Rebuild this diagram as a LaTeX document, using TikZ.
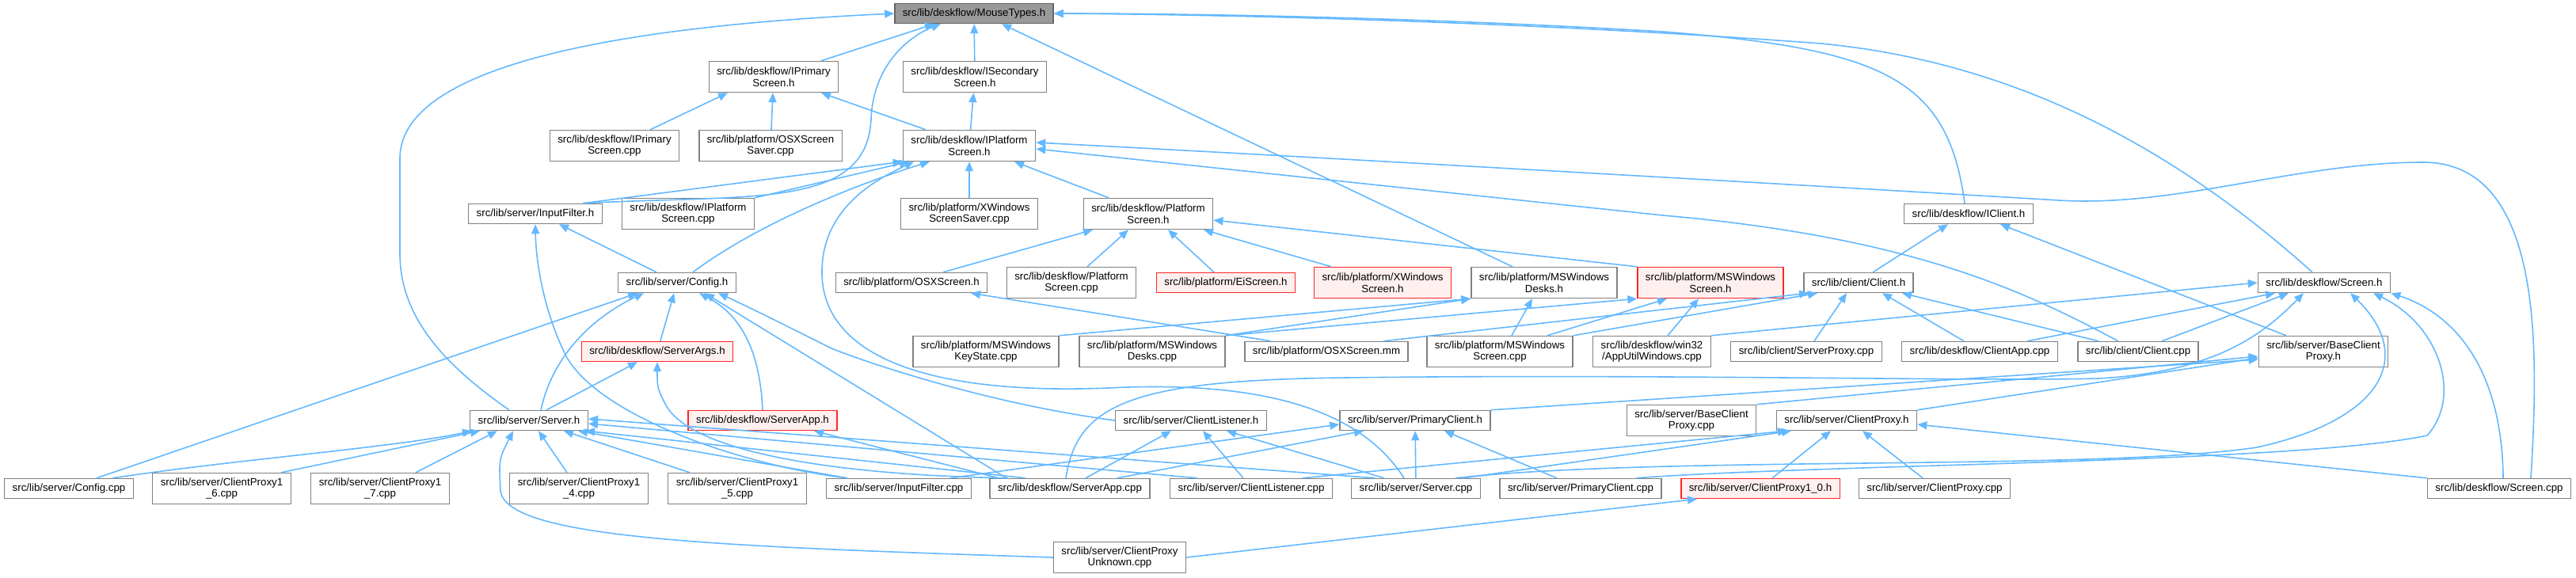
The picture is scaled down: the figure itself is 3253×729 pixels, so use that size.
\documentclass[tikz,border=0pt]{standalone}
\usepackage{fontspec}
\setmainfont{Liberation Sans}
\usepackage{xcolor}
\usepackage{tikz}
\usetikzlibrary{arrows.meta}
\definecolor{edgeblue}{HTML}{63B8FF}
\definecolor{badfill}{HTML}{FFF0F0}

\begin{document}
\begin{tikzpicture}[x=1pt,y=-1pt,
 file/.style={draw=black!50,line width=1.4pt,fill=white,font=\fontsize{13.3}{14.5}\selectfont,
   inner xsep=10pt,inner ysep=1pt,minimum height=25pt,align=center},
 file2/.style={file,minimum height=39pt},
 bad/.style={draw=red!85!white,fill=badfill},
 dep/.style={draw=edgeblue,line width=1.6pt,-{Triangle[length=12pt,width=10pt]}}]
\useasboundingbox (0,0) rectangle (3253,729);
% row 0-3
\node[file,fill=black!40,draw=black!60] (mouse) at (1230,17) {src/lib/deskflow/MouseTypes.h};
\node[file2] (iprim) at (977,97) {src/lib/deskflow/IPrimary\\Screen.h};
\node[file2] (isec) at (1231,97) {src/lib/deskflow/ISecondary\\Screen.h};
\node[file2] (iprimcpp) at (776,184) {src/lib/deskflow/IPrimary\\Screen.cpp};
\node[file2] (osxsaver) at (973,184) {src/lib/platform/OSXScreen\\Saver.cpp};
\node[file2] (iplat) at (1224,184) {src/lib/deskflow/IPlatform\\Screen.h};
\node[file] (ifilterh) at (676,270) {src/lib/server/InputFilter.h};
\node[file2] (iplatcpp) at (869,270) {src/lib/deskflow/IPlatform\\Screen.cpp};
\node[file2] (xsaver) at (1224,270) {src/lib/platform/XWindows\\ScreenSaver.cpp};
\node[file2] (plath) at (1450,270) {src/lib/deskflow/Platform\\Screen.h};
\node[file] (iclient) at (2486,270) {src/lib/deskflow/IClient.h};
% row 4
\node[file] (configh) at (855,357) {src/lib/server/Config.h};
\node[file] (osxh) at (1151,357) {src/lib/platform/OSXScreen.h};
\node[file2] (platcpp) at (1353,357) {src/lib/deskflow/Platform\\Screen.cpp};
\node[file,bad] (eih) at (1548,357) {src/lib/platform/EiScreen.h};
\node[file2,bad] (xwinh) at (1746,357) {src/lib/platform/XWindows\\Screen.h};
\node[file2] (msdesksh) at (1950,357) {src/lib/platform/MSWindows\\Desks.h};
\node[file2,bad] (msscrh) at (2160,357) {src/lib/platform/MSWindows\\Screen.h};
\node[file] (clienth) at (2347,357) {src/lib/client/Client.h};
\node[file] (screenh) at (2935,357) {src/lib/deskflow/Screen.h};
% row 5
\node[file,bad] (serverargs) at (830,444) {src/lib/deskflow/ServerArgs.h};
\node[file2] (mskeycpp) at (1245,444) {src/lib/platform/MSWindows\\KeyState.cpp};
\node[file2] (msdeskscpp) at (1455,444) {src/lib/platform/MSWindows\\Desks.cpp};
\node[file] (osxmm) at (1675,444) {src/lib/platform/OSXScreen.mm};
\node[file2] (msscrcpp) at (1894,444) {src/lib/platform/MSWindows\\Screen.cpp};
\node[file2] (apputil) at (2086,444) {src/lib/deskflow/win32\\/AppUtilWindows.cpp};
\node[file] (srvproxy) at (2281,444) {src/lib/client/ServerProxy.cpp};
\node[file] (clientapp) at (2500,444) {src/lib/deskflow/ClientApp.cpp};
\node[file] (clientcpp) at (2700,444) {src/lib/client/Client.cpp};
\node[file2] (bcph) at (2934,444) {src/lib/server/BaseClient\\Proxy.h};
% row 6
\node[file] (serverh) at (668,531) {src/lib/server/Server.h};
\node[file,bad] (srvapph) at (963,531) {src/lib/deskflow/ServerApp.h};
\node[file] (clh) at (1504,531) {src/lib/server/ClientListener.h};
\node[file] (pch) at (1787,531) {src/lib/server/PrimaryClient.h};
\node[file2] (bcpcpp) at (2136,531) {src/lib/server/BaseClient\\Proxy.cpp};
\node[file] (cph) at (2332,531) {src/lib/server/ClientProxy.h};
% row 7-8
\node[file] (configcpp) at (87,617) {src/lib/server/Config.cpp};
\node[file2] (cp16) at (280,617) {src/lib/server/ClientProxy1\\\_6.cpp};
\node[file2] (cp17) at (480,617) {src/lib/server/ClientProxy1\\\_7.cpp};
\node[file2] (cp14) at (731,617) {src/lib/server/ClientProxy1\\\_4.cpp};
\node[file2] (cp15) at (931,617) {src/lib/server/ClientProxy1\\\_5.cpp};
\node[file] (ifiltercpp) at (1135,617) {src/lib/server/InputFilter.cpp};
\node[file] (srvappcpp) at (1351,617) {src/lib/deskflow/ServerApp.cpp};
\node[file] (clcpp) at (1580,617) {src/lib/server/ClientListener.cpp};
\node[file] (servercpp) at (1788,617) {src/lib/server/Server.cpp};
\node[file] (pccpp) at (1996,617) {src/lib/server/PrimaryClient.cpp};
\node[file,bad] (cp10h) at (2223,617) {src/lib/server/ClientProxy1\_0.h};
\node[file] (cpcpp) at (2443,617) {src/lib/server/ClientProxy.cpp};
\node[file] (screencpp) at (3156,617) {src/lib/deskflow/Screen.cpp};
\node[file2] (cpunknown) at (1414,704) {src/lib/server/ClientProxy\\Unknown.cpp};

% MouseTypes.h
\draw[dep] ([xshift=60pt]iprim.north) -- ([xshift=-50pt]mouse.south);
\draw[dep] (isec) -- (mouse);
\draw[dep] ([xshift=-40pt]msdesksh.north) -- ([xshift=35pt]mouse.south);
\draw[dep] ([xshift=60pt]ifilterh.north) .. controls (950,245) and (1095,265) .. (1100,150)
  .. controls (1103,80) and (1150,45) .. ([xshift=-42pt]mouse.south);
\draw[dep] ([xshift=-25pt]serverh.north) .. controls (560,460) and (505,400) .. (505,320)
  -- (505,200) .. controls (505,60) and (900,28) .. (mouse.west);
\draw[dep] ([xshift=-5pt]iclient.north) .. controls (2460,100) and (2380,62) .. (2100,40)
  .. controls (1800,22) and (1500,17) .. (mouse.east);
\draw[dep] ([xshift=-15pt]screenh.north) .. controls (2760,200) and (2560,80) .. (2300,55)
  .. controls (1900,25) and (1500,18) .. (mouse.east);
% IPrimary / ISecondary
\draw[dep] ([xshift=45pt]iprimcpp.north) -- ([xshift=-58pt]iprim.south);
\draw[dep] (osxsaver) -- (iprim);
\draw[dep] ([xshift=-55pt]iplat.north) -- ([xshift=60pt]iprim.south);
\draw[dep] (iplat) -- (isec);
% IPlatformScreen.h
\draw[dep] ([xshift=60pt]ifilterh.north) -- (iplat.south west);
\draw[dep] (iplatcpp.north east) -- ([xshift=8pt]iplat.south west);
\draw[dep] ([xshift=20pt]configh.north) .. controls (960,280) and (1090,230) .. ([xshift=-50pt]iplat.south);
\draw[dep] (xsaver) -- (iplat);
\draw[dep] ([xshift=-50pt]plath.north) -- ([xshift=57pt]iplat.south);
\draw[dep] ([xshift=-15pt]servercpp.north) .. controls (1720,520) and (1600,480) .. (1400,490)
  .. controls (1150,500) and (1035,440) .. (1038,340)
  .. controls (1040,260) and (1110,225) .. ([xshift=-70pt]iplat.south);
\draw[dep] ([xshift=40pt]screencpp.north) .. controls (3205,450) and (3215,205) .. (3060,205)
  .. controls (2900,205) and (2750,262) .. (2600,253)
  .. controls (2300,235) and (1600,195) .. ([yshift=4pt]iplat.east);
\draw[dep] ([xshift=-25pt]clientcpp.north) .. controls (2560,370) and (2420,300) .. (2100,272)
  -- ([yshift=-4pt]iplat.east);
% PlatformScreen.h
\draw[dep] ([xshift=40pt]osxh.north) -- ([xshift=-70pt]plath.south);
\draw[dep] ([xshift=20pt]platcpp.north) -- ([xshift=-25pt]plath.south);
\draw[dep] ([xshift=-15pt]eih.north) -- ([xshift=25pt]plath.south);
\draw[dep] ([xshift=-65pt]xwinh.north) -- ([xshift=70pt]plath.south);
\draw[dep] (msscrh.north west) -- ([yshift=-8pt]plath.east);
% IClient.h
\draw[dep] ([xshift=18pt]clienth.north) -- ([xshift=-26pt]iclient.south);
\draw[dep] ([xshift=-47pt]bcph.north) -- ([xshift=40pt]iclient.south);
% OSXScreen.h, MSWindows
\draw[dep] ([xshift=-70pt]osxmm.north) -- ([xshift=75pt]osxh.south);
\draw[dep] (mskeycpp.north east) -- (msdesksh.south west);
\draw[dep] (msdeskscpp.north east) -- (msdesksh.south west);
\draw[dep] ([xshift=15pt]msscrcpp.north) -- ([xshift=-15pt]msdesksh.south);
\draw[dep] (msdeskscpp.north east) -- (msscrh.south west);
\draw[dep] ([xshift=60pt]msscrcpp.north) -- ([xshift=-55pt]msscrh.south);
\draw[dep] ([xshift=20pt]apputil.north) -- ([xshift=-15pt]msscrh.south);
% Client.h
\draw[dep] ([xshift=72pt]osxmm.north) -- ([xshift=-63pt]clienth.south);
\draw[dep] (msscrcpp.north east) -- ([xshift=-52pt]clienth.south);
\draw[dep] ([xshift=10pt]srvproxy.north) -- ([xshift=-15pt]clienth.south);
\draw[dep] ([xshift=-20pt]clientapp.north) -- ([xshift=30pt]clienth.south);
\draw[dep] ([xshift=-50pt]clientcpp.north) -- ([xshift=55pt]clienth.south);
% Screen.h
\draw[dep] (apputil.north east) -- (screenh.west);
\draw[dep] ([xshift=60pt]clientapp.north) -- ([xshift=-62pt]screenh.south);
\draw[dep] ([xshift=30pt]clientcpp.north) -- ([xshift=-45pt]screenh.south);
\draw[dep] ([xshift=-5pt]srvappcpp.north) .. controls (1360,510) and (1430,480) .. (1700,477)
  .. controls (2100,472) and (2500,482) .. (2650,478)
  .. controls (2800,470) and (2860,420) .. ([xshift=-26pt]screenh.south);
\draw[dep] ([xshift=50pt]servercpp.north) .. controls (2100,575) and (2650,595) .. (2850,565)
  .. controls (3010,530) and (3050,450) .. ([xshift=33pt]screenh.south);
\draw[dep] ([xshift=70pt]pccpp.north) .. controls (2300,586) and (2900,585) .. (3065,550)
  .. controls (3110,500) and (3080,410) .. ([xshift=62pt]screenh.south);
\draw[dep] ([xshift=5pt]screencpp.north) .. controls (3160,480) and (3110,400) .. (screenh.south east);
% BaseClientProxy.h
\draw[dep] (bcpcpp.north east) -- ([yshift=-6pt]bcph.west);
\draw[dep] (cph.north east) -- ([yshift=-8pt]bcph.west);
\draw[dep] (pch.north east) -- ([yshift=-10pt]bcph.west);
% Config.h, InputFilter.h
\draw[dep] ([xshift=35pt]configcpp.north) -- ([xshift=-50pt]configh.south);
\draw[dep] ([xshift=15pt]serverh.north) .. controls (700,440) and (760,395) .. ([xshift=-42pt]configh.south);
\draw[dep] (serverargs) -- (configh);
\draw[dep] (srvapph.north) .. controls (960,450) and (940,400) .. ([xshift=28pt]configh.south);
\draw[dep] ([xshift=-80pt]srvappcpp.north) -- ([xshift=35pt]configh.south);
\draw[dep] (clh.west) .. controls (1250,510) and (1100,460) .. (1050,440)
  .. controls (990,410) and (940,385) .. ([xshift=52pt]configh.south);
\draw[dep] ([xshift=-26pt]configh.north) -- ([xshift=30pt]ifilterh.south);
\draw[dep] ([xshift=-65pt]ifiltercpp.north) .. controls (950,590) and (760,530) .. (715,450)
  .. controls (690,400) and (677,340) .. (ifilterh.south);
% ServerArgs.h, ServerApp.h
\draw[dep] ([xshift=22pt]serverh.north) -- ([xshift=-25pt]serverargs.south);
\draw[dep] ([xshift=-78pt]srvappcpp.north) .. controls (1050,600) and (870,570) .. (840,510)
  .. controls (830,490) .. (serverargs.south);
\draw[dep] ([xshift=-90pt]srvappcpp.north) -- ([xshift=65pt]srvapph.south);
% Server.h
\draw[dep] ([xshift=55pt]configcpp.north) .. controls (300,580) and (500,565) .. ([xshift=-72pt]serverh.south);
\draw[dep] ([xshift=75pt]cp16.north) -- ([xshift=-62pt]serverh.south);
\draw[dep] ([xshift=45pt]cp17.north) -- ([xshift=-40pt]serverh.south);
\draw[dep] (cpunknown.west) .. controls (900,690) and (640,680) .. (632,620)
  .. controls (630,580) .. ([xshift=-20pt]serverh.south);
\draw[dep] ([xshift=-15pt]cp14.north) -- ([xshift=12pt]serverh.south);
\draw[dep] ([xshift=-60pt]cp15.north) -- ([xshift=44pt]serverh.south);
\draw[dep] ([xshift=-65pt]ifiltercpp.north) -- ([xshift=-13pt]serverh.south east);
\draw[dep] ([xshift=-56pt]srvappcpp.north) -- ([xshift=-4pt]serverh.south east);
\draw[dep] ([xshift=-68pt]clcpp.north) -- ([yshift=-4pt]serverh.east);
\draw[dep] ([xshift=-51pt]servercpp.north) -- ([yshift=2pt]serverh.east);
% ClientListener.h, PrimaryClient.h
\draw[dep] ([xshift=20pt]srvappcpp.north) -- ([xshift=-25pt]clh.south);
\draw[dep] ([xshift=-10pt]clcpp.north) -- ([xshift=15pt]clh.south);
\draw[dep] ([xshift=-40pt]servercpp.north) -- ([xshift=45pt]clh.south);
\draw[dep] ([xshift=65pt]ifiltercpp.north) -- ([yshift=-5pt]pch.west);
\draw[dep] ([xshift=60pt]srvappcpp.north) -- ([xshift=-65pt]pch.south);
\draw[dep] (servercpp) -- (pch);
\draw[dep] ([xshift=-30pt]pccpp.north) -- ([xshift=37pt]pch.south);
% ClientProxy.h, ClientProxy1_0.h
\draw[dep] ([xshift=65pt]clcpp.north) -- ([xshift=-75pt]cph.south);
\draw[dep] ([xshift=60pt]servercpp.north) -- ([xshift=-70pt]cph.south);
\draw[dep] ([xshift=15pt]cp10h.north) -- ([xshift=-20pt]cph.south);
\draw[dep] ([xshift=-15pt]cpcpp.north) -- ([xshift=20pt]cph.south);
\draw[dep] (screencpp.north west) -- ([yshift=-5pt]cph.east);
\draw[dep] (cpunknown.east) -- ([xshift=-80pt]cp10h.south);
\end{tikzpicture}
\end{document}
